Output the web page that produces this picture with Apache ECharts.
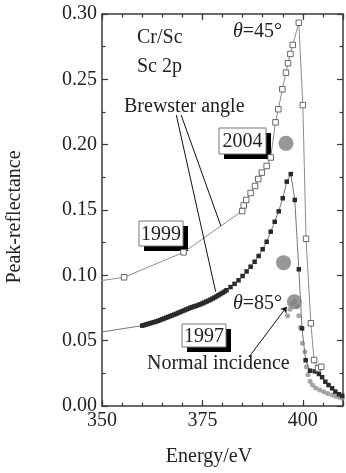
<!DOCTYPE html>
<html>
<head>
<meta charset="utf-8">
<script src="https://cdn.jsdelivr.net/npm/echarts@6/dist/echarts.min.js"></script>
<style>
  html, body { margin: 0; padding: 0; background: #fff; }
  #chart { width: 346px; height: 473px; }
</style>
</head>
<body>
<div id="chart"></div>
<script>
// Peak reflectance of Cr/Sc multilayers at the Sc 2p edge

// Brewster angle, theta = 45 deg (open squares: 1999 points and 2004 points)
const openEnergy = [340, 355.5, 370.3, 384.9, 385.3, 385.9, 387.0, 388.1, 388.9, 389.8, 391.0, 392.0,
  393.2, 393.9, 394.9, 395.8, 396.3, 396.9, 397.5, 399.0, 400.0, 400.8, 402.0, 402.8, 403.8, 404.6];
const openReflect = [0.0915, 0.0985, 0.1176, 0.1492, 0.1535, 0.1577, 0.1630, 0.1684, 0.1737, 0.1786, 0.1837, 0.1902,
  0.2171, 0.2271, 0.2424, 0.2551, 0.2623, 0.2694, 0.2763, 0.2933, 0.2303, 0.1280, 0.0633, 0.0352, 0.0288, 0.0300];

// Brewster angle, theta = 85 deg (filled squares, 1997)
const filledEnergy = [340,
  360, 360.5, 361, 361.5, 362, 362.5, 363, 363.5, 364, 364.5, 365, 365.5, 366, 366.5, 367, 367.5,
  368, 368.5, 369, 369.5, 370, 370.5, 371, 371.5, 372, 372.5, 373, 373.5, 374, 374.5, 375, 375.5,
  376, 376.5, 377, 377.5, 378, 378.5, 379, 379.5, 380, 380.5, 381,
  382, 383, 384, 385, 386, 387, 388, 389, 390, 391, 392, 393, 394, 395, 396, 397,
  398, 399, 399.8, 400.7, 401.8, 403, 404, 404.8, 405.6, 406.4, 407.3, 408.1, 409, 409.8, 410.6];
const filledReflect = [0.0519,
  0.0615, 0.0619, 0.0624, 0.0628, 0.0633, 0.0638, 0.0642, 0.0647, 0.0652, 0.0658, 0.0664, 0.0670, 0.0676, 0.0682, 0.0688, 0.0694,
  0.0700, 0.0706, 0.0713, 0.0719, 0.0726, 0.0732, 0.0739, 0.0745, 0.0752, 0.0757, 0.0762, 0.0767, 0.0773, 0.0779, 0.0785, 0.0792,
  0.0799, 0.0806, 0.0814, 0.0822, 0.0830, 0.0839, 0.0848, 0.0857, 0.0866, 0.0876, 0.0886,
  0.0910, 0.0935, 0.0962, 0.0995, 0.1030, 0.1066, 0.1104, 0.1148, 0.1200, 0.1257, 0.1334, 0.1410, 0.1490, 0.1590, 0.1717, 0.1775,
  0.1577, 0.1046, 0.0594, 0.0350, 0.0270, 0.0265, 0.0245, 0.0220, 0.0186, 0.0160, 0.0135, 0.0110, 0.0090, 0.0078, 0.0068];

// Normal incidence (small grey dots)
const normalEnergy = [396.2, 396.8, 397.4, 398.0, 398.6, 399.0, 399.4, 399.9, 400.5, 400.9, 401.3, 401.8,
  402.4, 403.2, 404.2, 405.2, 406.2, 407.3, 408.2, 409.0, 409.8];
const normalReflect = [0.0690, 0.0740, 0.0780, 0.0800, 0.0760, 0.0690, 0.0600, 0.0480, 0.0416, 0.0300, 0.0240, 0.0190,
  0.0160, 0.0138, 0.0122, 0.0110, 0.0096, 0.0084, 0.0075, 0.0067, 0.0060];

// Large grey dots: 2004, 1999 and 1997 peak values
const peakEnergy = [395.8, 395.2, 397.9];
const peakReflect = [0.201, 0.1097, 0.0798];

// Axis ticks
const xTicks = [350, 375, 400];
const yTicks = [0.00, 0.05, 0.10, 0.15, 0.20, 0.25, 0.30];

// Leader lines (data coordinates): Brewster-angle label and normal-incidence arrow
const brewsterLeaderFrom = [[368.5, 0.2227], [369.7, 0.2227]];
const brewsterLeaderTo = [[378.3, 0.0875], [379.6, 0.1377]];
const normalArrowFrom = [386.6, 0.0375];
const normalArrowTo = [396.0, 0.0760];

const zip = (a, b) => a.map((v, i) => [v, b[i]]);
const FONT = '"Liberation Serif", "Times New Roman", serif';
const INK = '#222';
const AXIS = '#3a3a3a';

const chart = echarts.init(document.getElementById('chart'), null, { renderer: 'canvas' });

const grid = { left: 102, top: 14, width: 246, height: 392, containLabel: false };

function xAx(position, interval, len, showLine, showLabel) {
  return {
    type: 'value', position, min: 350, max: 410, interval,
    axisLine: { show: showLine, onZero: false, lineStyle: { color: AXIS, width: 1.5 } },
    axisTick: { show: true, inside: true, length: len, lineStyle: { color: AXIS, width: 1.2 } },
    axisLabel: {
      show: showLabel, margin: 5, color: INK, fontFamily: FONT, fontSize: 20,
      formatter: v => (xTicks.indexOf(v) >= 0 ? String(v) : '')
    },
    splitLine: { show: false }
  };
}
function yAx(position, showLabel) {
  return {
    type: 'value', position, min: 0, max: 0.3, interval: 0.05,
    axisLine: { show: true, onZero: false, lineStyle: { color: AXIS, width: 1.5 } },
    axisTick: { show: true, inside: true, length: 6, lineStyle: { color: AXIS, width: 1.2 } },
    minorTick: { show: true, splitNumber: 2, length: 3.5, lineStyle: { color: AXIS, width: 1.2 } },
    axisLabel: {
      show: showLabel, margin: 5, color: INK, fontFamily: FONT, fontSize: 20,
      formatter: v => {
        const t = yTicks.find(k => Math.abs(k - v) < 1e-9);
        return t === undefined ? '' : t.toFixed(2);
      }
    },
    splitLine: { show: false }
  };
}

function yearBox(label, x, y, w, h) {
  return {
    type: 'group', x, y,
    children: [
      { type: 'rect', shape: { x: 5, y: 5, width: w, height: h }, style: { fill: '#000' } },
      { type: 'rect', shape: { x: 0, y: 0, width: w, height: h }, style: { fill: '#fff', stroke: '#777', lineWidth: 1 } },
      { type: 'text', style: { text: label, x: w / 2, y: h / 2 + 1, align: 'center', verticalAlign: 'middle', font: '20px ' + FONT, fill: INK } }
    ]
  };
}
function label(text, x, y, opts) {
  return {
    type: 'text', x, y, rotation: (opts && opts.rotation) || 0,
    style: Object.assign({ text, align: 'left', verticalAlign: 'middle', font: '20px ' + FONT, fill: INK }, opts && opts.style)
  };
}
function thetaLabel(deg, x, y) {
  return {
    type: 'text', x, y,
    style: {
      text: '{i|θ}=' + deg + '°', align: 'left', verticalAlign: 'middle',
      font: '20px ' + FONT, fill: INK,
      rich: { i: { fontStyle: 'italic', fontFamily: FONT, fontSize: 20, fill: INK, color: INK } }
    }
  };
}

chart.setOption({
  animation: false,
  backgroundColor: '#fff',
  grid,
  xAxis: [
    xAx('bottom', 25, 6, true, true),
    xAx('bottom', 5, 3.5, false, false),
    xAx('top', 25, 6, true, false),
    xAx('top', 5, 3.5, false, false)
  ],
  yAxis: [yAx('left', true), yAx('right', false)],
  series: [
    {
      name: 'theta85', type: 'line', data: zip(filledEnergy, filledReflect),
      symbol: 'rect', symbolSize: 4.5, showAllSymbol: true,
      itemStyle: { color: '#2a2a2a' },
      lineStyle: { color: '#777', width: 1 },
      clip: true, z: 3
    },
    {
      name: 'theta45', type: 'line', data: zip(openEnergy, openReflect),
      symbol: 'rect', symbolSize: 5.5, showAllSymbol: true,
      itemStyle: { color: '#fff', borderColor: '#666', borderWidth: 1 },
      lineStyle: { color: '#8c8c8c', width: 1 },
      clip: true, z: 4
    },
    {
      name: 'normal', type: 'scatter', data: zip(normalEnergy, normalReflect),
      symbol: 'circle', symbolSize: 5,
      itemStyle: { color: '#8e8e8e' }, clip: true, z: 2
    },
    {
      name: 'peaks', type: 'scatter', data: zip(peakEnergy, peakReflect),
      symbol: 'circle', symbolSize: 15,
      itemStyle: { color: '#7d7d7d' }, clip: true, z: 5
    },
    {
      name: 'leaders', type: 'line', data: [], silent: true,
      markLine: {
        silent: true, animation: false,
        symbol: ['none', 'none'],
        label: { show: false },
        lineStyle: { color: '#111', width: 1, type: 'solid' },
        data: [
          [{ coord: brewsterLeaderFrom[0] }, { coord: brewsterLeaderTo[0] }],
          [{ coord: brewsterLeaderFrom[1] }, { coord: brewsterLeaderTo[1] }],
          [{ coord: normalArrowFrom, symbol: 'none' }, { coord: normalArrowTo, symbol: 'arrow', symbolSize: 6 }]
        ]
      }
    }
  ],
  graphic: [
    label('Cr/Sc', 137, 38),
    label('Sc 2p', 137, 67),
    thetaLabel(45, 233, 32),
    label('Brewster angle', 124, 107),
    thetaLabel(85, 233, 304),
    label('Normal incidence', 147, 364),
    yearBox('2004', 219, 128, 47, 26),
    yearBox('1999', 139, 221, 44, 25),
    yearBox('1997', 182, 324, 44, 23),
    label('Peak-reflectance', 15, 217, { rotation: Math.PI / 2, style: { align: 'center' } }),
    label('Energy/eV', 209, 457, { style: { align: 'center' } })
  ]
});
</script>
</body>
</html>
